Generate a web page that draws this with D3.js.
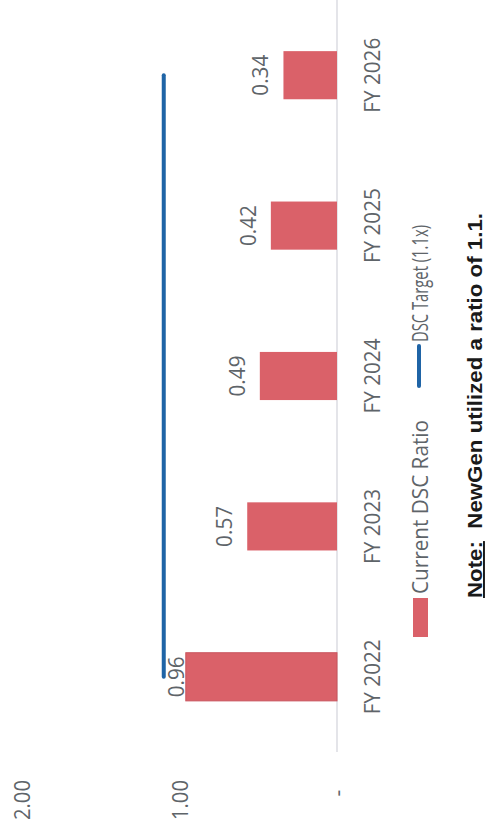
<!DOCTYPE html>
<html>
<head>
<meta charset="utf-8">
<script src="https://cdn.jsdelivr.net/npm/d3@7"></script>
<style>
  html, body { margin: 0; padding: 0; background: #ffffff; }
  svg { display: block; }
</style>
</head>
<body>
<svg id="chart" width="492" height="834"></svg>
<script>
// Debt service coverage by fiscal year
const years = ["FY 2022", "FY 2023", "FY 2024", "FY 2025", "FY 2026"];
const dscRatio = [0.96, 0.57, 0.49, 0.42, 0.34];
const dscTarget = [1.1, 1.1, 1.1, 1.1, 1.1];
const valueTicks = [0, 1, 2];
const seriesNames = ["Current DSC Ratio", "DSC Target (1.1x)"];
const noteLead = "Note:";
const noteBody = "  NewGen utilized a ratio of 1.1.";

const W = 492, H = 834;
const barColor = "#da6169";
const lineColor = "#1f64a6";
const textColor = "#5e6469";
const labelFont = "'Open Sans', 'DejaVu Sans', sans-serif";

const svg = d3.select("#chart");

// The chart is laid out in its own frame (categories along u, values along v)
// and turned a quarter turn so it reads bottom-to-top on the page.
const g = svg.append("g").attr("transform", `translate(0,${H}) rotate(-90)`);

const x = d3.scaleBand()
  .domain(years)
  .range([82, 834])
  .paddingInner(0.68)
  .paddingOuter(0.34);

const y = d3.scaleLinear().domain([0, 2]).range([337, 22]);

// category axis line
g.append("line")
  .attr("x1", x.range()[0]).attr("x2", x.range()[1])
  .attr("y1", y(0)).attr("y2", y(0))
  .attr("stroke", "#d2d3da").attr("stroke-width", 1.2);

// value tick labels
g.append("g").selectAll("text")
  .data(valueTicks)
  .join("text")
  .attr("x", d => d === 0 ? 41 : 54)
  .attr("y", d => y(d) + 8)
  .attr("text-anchor", d => d === 0 ? "middle" : "end")
  .attr("font-family", labelFont)
  .attr("font-size", 21)
  .attr("fill", textColor)
  .each(function (d) {
    const t = d3.select(this);
    if (d === 0) t.text("-");
    else t.text(d3.format(".2f")(d)).attr("textLength", 40).attr("lengthAdjust", "spacingAndGlyphs");
  });

// bars
g.append("g").selectAll("rect")
  .data(years)
  .join("rect")
  .attr("x", d => x(d))
  .attr("width", x.bandwidth())
  .attr("y", (d, i) => y(dscRatio[i]))
  .attr("height", (d, i) => y(0) - y(dscRatio[i]))
  .attr("fill", barColor)
  .attr("stroke", (d, i) => i === 0 ? "#c9545d" : "none")
  .attr("stroke-width", 1);

// target line
const line = d3.line()
  .x((d, i) => x(years[i]) + x.bandwidth() / 2)
  .y(d => y(d));

g.append("path")
  .datum(dscTarget)
  .attr("d", line)
  .attr("fill", "none")
  .attr("stroke", lineColor)
  .attr("stroke-width", 4)
  .attr("stroke-linecap", "round");

// value labels above the bars (the first one sits tight to clear the line end)
g.append("g").selectAll("text")
  .data(years)
  .join("text")
  .attr("x", d => x(d) + x.bandwidth() / 2)
  .attr("y", (d, i) => y(dscRatio[i]) - (i === 0 ? 2 : 15))
  .attr("text-anchor", "middle")
  .attr("font-family", labelFont)
  .attr("font-size", 21)
  .attr("fill", textColor)
  .attr("textLength", 41)
  .attr("lengthAdjust", "spacingAndGlyphs")
  .text((d, i) => d3.format(".2f")(dscRatio[i]));

// category labels
g.append("g").selectAll("text")
  .data(years)
  .join("text")
  .attr("x", d => x(d) + x.bandwidth() / 2)
  .attr("y", 380)
  .attr("text-anchor", "middle")
  .attr("font-family", labelFont)
  .attr("font-size", 22)
  .attr("fill", textColor)
  .attr("textLength", 75)
  .attr("lengthAdjust", "spacingAndGlyphs")
  .text(d => d);

// legend
const legend = g.append("g");
legend.append("rect")
  .attr("x", 197).attr("y", 413)
  .attr("width", 39).attr("height", 15)
  .attr("fill", barColor);
legend.append("text")
  .attr("x", 240).attr("y", 428)
  .attr("font-family", labelFont)
  .attr("font-size", 21)
  .attr("fill", textColor)
  .attr("textLength", 174)
  .attr("lengthAdjust", "spacingAndGlyphs")
  .text(seriesNames[0]);
legend.append("line")
  .attr("x1", 448).attr("x2", 488)
  .attr("y1", 419).attr("y2", 419)
  .attr("stroke", lineColor)
  .attr("stroke-width", 4)
  .attr("stroke-linecap", "round");
legend.append("text")
  .attr("x", 492).attr("y", 428)
  .attr("font-family", labelFont)
  .attr("font-size", 21)
  .attr("fill", textColor)
  .attr("textLength", 117)
  .attr("lengthAdjust", "spacingAndGlyphs")
  .text(seriesNames[1]);

// footnote
const note = g.append("text")
  .attr("x", 236).attr("y", 482)
  .attr("font-family", "'Liberation Sans', Arial, sans-serif")
  .attr("font-weight", "bold")
  .attr("font-size", 19.5)
  .attr("fill", "#1a1a1a")
  .style("white-space", "pre")
  .attr("textLength", 385)
  .attr("lengthAdjust", "spacingAndGlyphs");
note.append("tspan").attr("text-decoration", "underline").text(noteLead);
note.append("tspan").text(noteBody);
</script>
</body>
</html>
